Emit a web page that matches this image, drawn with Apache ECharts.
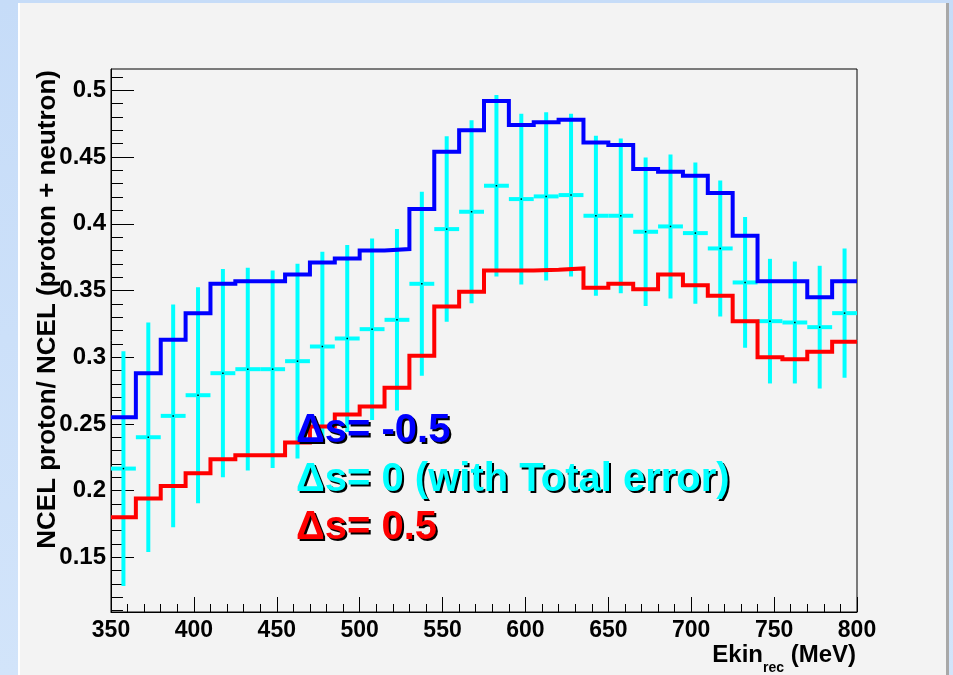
<!DOCTYPE html>
<html>
<head>
<meta charset="utf-8">
<script src="https://cdn.jsdelivr.net/npm/echarts@6/dist/echarts.min.js"></script>
<style>
  html, body { margin: 0; padding: 0; width: 953px; height: 675px; overflow: hidden;
    background: linear-gradient(180deg, #c6dcf8 0%, #d2e4fa 100%); }
  #sheet { position: absolute; left: 18px; top: 3px; width: 926px; height: 672px;
    background: #f3f3f3; border-left: 2px solid #ffffff; box-shadow: 3px 0 0 #a8a8a8; }
  #chart { position: absolute; left: 0; top: 0; width: 953px; height: 675px; }
</style>
</head>
<body>
<div id="sheet"></div>
<div id="chart"></div>
<script>
// Bin edges of the reconstructed kinetic energy histogram (MeV)
const binEdges = [350, 365, 380, 395, 410, 425, 440, 455, 470, 485, 500, 515, 530, 545, 560,
                  575, 590, 605, 620, 635, 650, 665, 680, 695, 710, 725, 740, 755, 770, 785, 800];

// Ratio NCEL proton / NCEL (proton + neutron) per bin
const ratioMinus = [0.255, 0.288, 0.313, 0.333, 0.355, 0.357, 0.357, 0.362, 0.371, 0.374,
                    0.380, 0.381, 0.411, 0.454, 0.470, 0.492, 0.474, 0.476, 0.478, 0.461,
                    0.459, 0.441, 0.439, 0.436, 0.423, 0.391, 0.357, 0.357, 0.345, 0.357];
const ratioZero  = [0.2165, 0.240, 0.256, 0.2715, 0.288, 0.291, 0.291, 0.297, 0.308, 0.314,
                    0.321, 0.328, 0.355, 0.396, 0.409, 0.4285, 0.4185, 0.4205, 0.4215, 0.406,
                    0.406, 0.394, 0.398, 0.393, 0.3815, 0.356, 0.327, 0.326, 0.3225, 0.333];
const ratioZeroErr = [0.088, 0.086, 0.0835, 0.081, 0.078, 0.076, 0.074, 0.073, 0.071, 0.070,
                      0.068, 0.068, 0.069, 0.0695, 0.0685, 0.068, 0.064, 0.063, 0.061, 0.060,
                      0.058, 0.0557, 0.054, 0.053, 0.051, 0.049, 0.0467, 0.0457, 0.046, 0.0485];
const ratioPlus  = [0.180, 0.194, 0.2035, 0.213, 0.2235, 0.2265, 0.2265, 0.236, 0.248, 0.257,
                    0.263, 0.277, 0.301, 0.338, 0.349, 0.365, 0.365, 0.3655, 0.3665, 0.352,
                    0.355, 0.351, 0.362, 0.354, 0.346, 0.327, 0.300, 0.2985, 0.304, 0.3115];

// Axis ranges and labelled ticks
const X_MIN = 350, X_MAX = 800, X_STEP = 50;
const Y_MIN = 0.109, Y_MAX = 0.516;
const yMajorTicks = [0.15, 0.2, 0.25, 0.3, 0.35, 0.4, 0.45, 0.5];
const yMinorTicks = [];
for (let k = 11; k <= 51; k++) yMinorTicks.push(k / 100);

const legendLines = [
  { text: 'Δs= -0.5', color: '#0000ff' },
  { text: 'Δs= 0 (with Total error)', color: '#00ffff' },
  { text: 'Δs= 0.5', color: '#ff0000' }
];

const FONT = '"Liberation Sans", Arial, Helvetica, sans-serif';

// Histogram outline: one point per lower edge plus the last upper edge
function stepData(values) {
  return binEdges.map((e, i) => [e, values[Math.min(i, values.length - 1)]]);
}

const errData = ratioZero.map((v, i) => [binEdges[i], binEdges[i + 1], v, ratioZeroErr[i]]);

// Legend captions: black copy slightly offset underneath, coloured text on top
const captionGraphics = [];
legendLines.forEach((l, i) => {
  const base = { fontSize: 40, fontWeight: 'bold', fontFamily: FONT,
                 align: 'left', verticalAlign: 'middle' };
  captionGraphics.push({ type: 'text', x: 298, y: 433 + i * 48.5, z: 10,
    style: Object.assign({ text: l.text, fill: '#000' }, base) });
  captionGraphics.push({ type: 'text', x: 296, y: 431 + i * 48.5, z: 11,
    style: Object.assign({ text: l.text, fill: l.color }, base) });
});

const chart = echarts.init(document.getElementById('chart'), null, { renderer: 'canvas' });

const option = {
  backgroundColor: 'transparent',
  animation: false,
  grid: { left: 111, right: 96, top: 69, bottom: 63, show: true,
          borderColor: '#000', borderWidth: 1, backgroundColor: 'transparent' },
  xAxis: {
    type: 'value', min: X_MIN, max: X_MAX, interval: X_STEP,
    axisLine: { show: true, lineStyle: { color: '#000', width: 1 } },
    axisTick: { show: true, inside: true, length: 15, lineStyle: { color: '#000', width: 1 } },
    minorTick: { show: true, splitNumber: 5, length: 8, lineStyle: { color: '#000', width: 1 } },
    axisLabel: { margin: 7, fontSize: 23, fontWeight: 'bold', color: '#000', fontFamily: FONT },
    splitLine: { show: false }, minorSplitLine: { show: false }
  },
  yAxis: [
    {
      type: 'value', min: Y_MIN, max: Y_MAX, position: 'left',
      axisLine: { show: true, lineStyle: { color: '#000', width: 1 } },
      axisTick: { show: true, inside: true, length: 23, customValues: yMajorTicks,
                  lineStyle: { color: '#000', width: 1 } },
      axisLabel: { customValues: yMajorTicks, margin: 5, fontSize: 24, fontWeight: 'bold',
                   color: '#000', fontFamily: FONT },
      splitLine: { show: false }
    },
    {
      type: 'value', min: Y_MIN, max: Y_MAX, position: 'left',
      axisLine: { show: false },
      axisTick: { show: true, inside: true, length: 12, customValues: yMinorTicks,
                  lineStyle: { color: '#000', width: 1 } },
      axisLabel: { show: false },
      splitLine: { show: false }
    }
  ],
  series: [
    {
      name: 'Δs= 0', type: 'custom', z: 2,
      data: errData,
      encode: { x: [0, 1], y: 2 },
      renderItem: function (params, api) {
        const lo = api.value(0), hi = api.value(1), v = api.value(2), e = api.value(3);
        const mid = (lo + hi) / 2;
        const pTop = api.coord([mid, v + e]);
        const pBot = api.coord([mid, v - e]);
        const pL = api.coord([lo, v]);
        const pR = api.coord([hi, v]);
        const style = { stroke: '#00ffff', lineWidth: 4, fill: null };
        return {
          type: 'group',
          children: [
            { type: 'line', shape: { x1: pTop[0], y1: pTop[1], x2: pBot[0], y2: pBot[1] }, style: style },
            { type: 'line', shape: { x1: pL[0], y1: pL[1], x2: pR[0], y2: pR[1] }, style: style },
            { type: 'rect', shape: { x: pTop[0] - 0.75, y: pL[1] - 0.75, width: 1.5, height: 1.5 },
              style: { fill: '#000' } }
          ]
        };
      }
    },
    {
      name: 'Δs= -0.5', type: 'line', step: 'end', z: 3,
      data: stepData(ratioMinus), showSymbol: false, symbol: 'none',
      lineStyle: { color: '#0000ff', width: 4, join: 'miter' }
    },
    {
      name: 'Δs= 0.5', type: 'line', step: 'end', z: 3,
      data: stepData(ratioPlus), showSymbol: false, symbol: 'none',
      lineStyle: { color: '#ff0000', width: 4, join: 'miter' }
    }
  ],
  graphic: [
    {
      type: 'text', x: 48, y: 70, rotation: Math.PI / 2, z: 10,
      style: { text: 'NCEL proton/ NCEL (proton + neutron)', fill: '#000',
               fontSize: 26, fontWeight: 'bold', fontFamily: FONT,
               align: 'right', verticalAlign: 'middle' }
    },
    {
      type: 'text', x: 856, y: 659, z: 10,
      style: {
        text: '{a|Ekin}{b|rec}{a| (MeV)}',
        align: 'right', verticalAlign: 'middle',
        rich: {
          a: { fontSize: 24, fontWeight: 'bold', fontFamily: FONT, fill: '#000',
               lineHeight: 24, verticalAlign: 'top' },
          b: { fontSize: 14, fontWeight: 'bold', fontFamily: FONT, fill: '#000',
               lineHeight: 32, verticalAlign: 'bottom' }
        }
      }
    }
  ].concat(captionGraphics)
};

chart.setOption(option);
</script>
</body>
</html>
